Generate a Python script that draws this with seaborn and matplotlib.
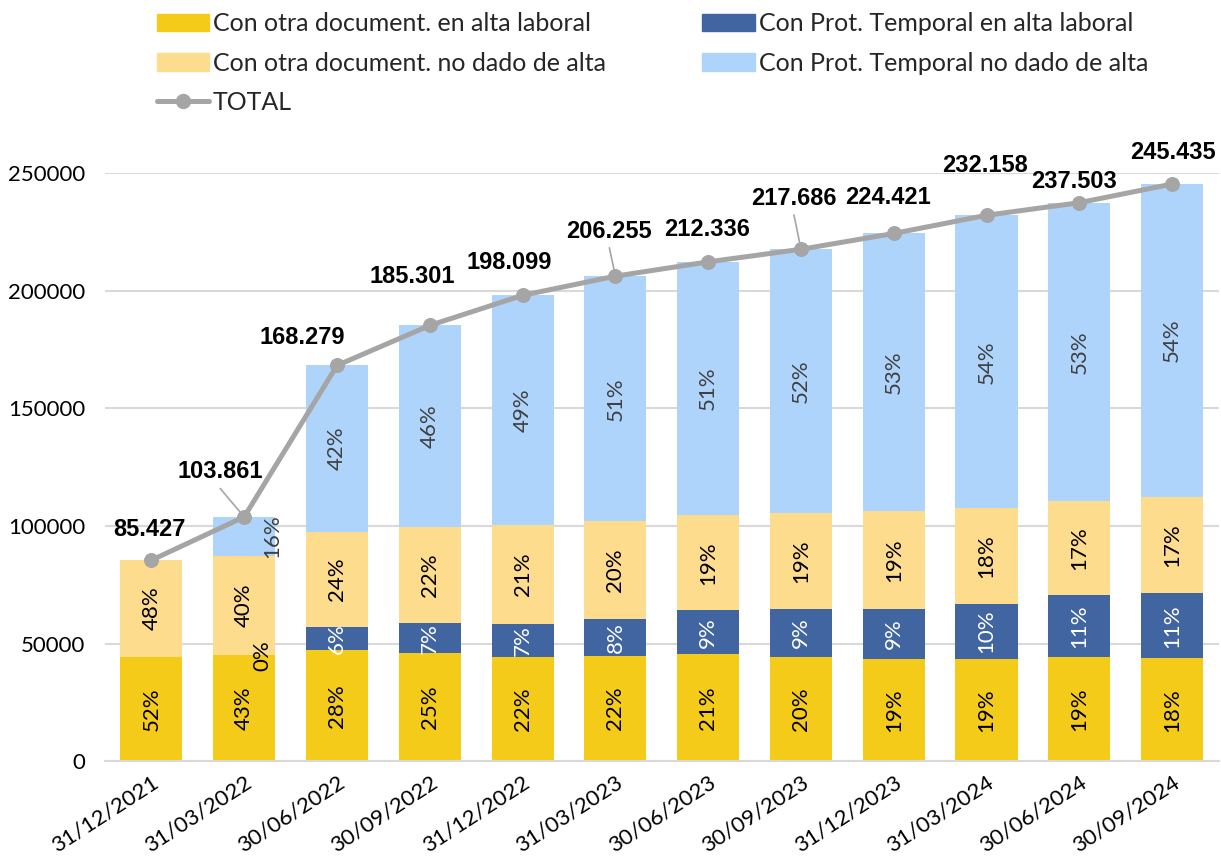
import numpy as np
import matplotlib
matplotlib.use('Agg')
import matplotlib.pyplot as plt
from matplotlib.patches import Patch
from matplotlib.lines import Line2D
import seaborn as sns

sns.set_theme(style='white')
plt.rcParams['font.family'] = ['Lato', 'DejaVu Sans']

dates = ['31/12/2021', '31/03/2022', '30/06/2022', '30/09/2022', '31/12/2022', '31/03/2023',
         '30/06/2023', '30/09/2023', '31/12/2023', '31/03/2024', '30/06/2024', '30/09/2024']

otra_alta = [44400, 44900, 47100, 45900, 44200, 44650, 45370, 44300, 43500, 43500, 44350, 43670]
prot_alta = [0, 300, 10000, 12760, 14050, 15730, 18830, 20330, 21000, 23130, 26100, 27630]
otra_no_alta = [41027, 41900, 40400, 40950, 42100, 41540, 40270, 40690, 41670, 40820, 40230, 40960]
prot_no_alta = [0, 16761, 70779, 85691, 97749, 104335, 107866, 112366, 118251, 124708, 126823, 133175]
totals = [85427, 103861, 168279, 185301, 198099, 206255, 212336, 217686, 224421, 232158, 237503, 245435]

series_names = ['Con otra document. en alta laboral', 'Con Prot. Temporal en alta laboral',
                'Con otra document. no dado de alta', 'Con Prot. Temporal no dado de alta']
colors = ['#F5CB1A', '#4165A0', '#FEDC8E', '#AFD4FC']
label_colors = ['black', 'white', 'black', '#404040']
line_color = '#A5A5A5'

# manual nudges for the total labels (pixels), as placed in the original
total_label_dx = [-2, -24, -35, -18, -13, -6, -1, -7, -6, -2, -5, 1]
total_label_dy = [31, 45, 28, 49, 33, 45, 32, 51, 36, 50, 21, 32]
leader_lines = [1, 5, 7]

fig = plt.figure(figsize=(12.21, 8.58), dpi=100)
ax = fig.add_axes([0.086, 0.113, 0.912, 0.685])

segments = [otra_alta, prot_alta, otra_no_alta, prot_no_alta]
cum = np.cumsum(np.array(segments, dtype=float), axis=0)
x = np.arange(len(dates))

# stacked bars: draw cumulative heights back to front
for i in range(len(segments) - 1, -1, -1):
    sns.barplot(x=dates, y=cum[i], color=colors[i], width=0.67, saturation=1,
                edgecolor='none', ax=ax, zorder=2)

# percent labels inside segments
for i, seg in enumerate(segments):
    for j, v in enumerate(seg):
        if v == 0:
            continue
        base = cum[i][j] - v
        pct = round(100 * v / totals[j])
        xx, c = j, label_colors[i]
        if j == 1 and i == 1:
            xx, c = j + 0.2, 'black'
        if j == 1 and i == 3:
            xx = j + 0.3
        ax.text(xx, base + v / 2, f'{pct}%', rotation=90, ha='center', va='center',
                fontsize=16, color=c, zorder=4)

sns.lineplot(x=x, y=totals, color=line_color, linewidth=3.6, marker='o',
             markersize=10, markeredgecolor=line_color, ax=ax, zorder=5)

for j, t in enumerate(totals):
    dx, dy = total_label_dx[j] * 0.72, total_label_dy[j] * 0.72
    ax.annotate(f'{t:,}'.replace(',', '.'), (j, t), xytext=(dx, dy),
                textcoords='offset points', ha='center', va='center', fontsize=17,
                fontweight='bold', family=['Liberation Sans', 'DejaVu Sans'], color='black',
                zorder=6, annotation_clip=False)
    if j in leader_lines:
        ax.annotate('', (j, t), xytext=(dx, dy - 12), textcoords='offset points',
                    arrowprops=dict(arrowstyle='-', color=line_color, lw=1.2,
                                    shrinkA=0, shrinkB=0), zorder=4)

ax.set_ylim(0, 250000)
ax.set_xlim(-0.5, len(dates) - 0.5)
ax.set_yticks(np.arange(0, 250001, 50000))
ax.yaxis.grid(True, color='#D9D9D9', linewidth=1.5, zorder=0)
ax.set_axisbelow(True)
for s in ['top', 'right', 'left']:
    ax.spines[s].set_visible(False)
ax.spines['bottom'].set_color('#D9D9D9')
ax.spines['bottom'].set_linewidth(1.5)
ax.tick_params(axis='y', labelsize=16, length=0, pad=14, labelcolor='black')
ax.tick_params(axis='x', labelsize=16, length=0, pad=8, labelcolor='black')
ax.set_xticks(x)
ax.set_xticklabels(dates, rotation=33, ha='right', rotation_mode='anchor')
ax.set_xlabel('')
ax.set_ylabel('')

handles = [Patch(color=colors[0]), Patch(color=colors[2]),
           Line2D([], [], color=line_color, linewidth=3.6, marker='o', markersize=10),
           Patch(color=colors[1]), Patch(color=colors[3])]
labels = [series_names[0], series_names[2], 'TOTAL', series_names[1], series_names[3]]
fig.legend(handles, labels, ncol=2, loc='upper left', bbox_to_anchor=(0.11, 1.012),
           frameon=False, fontsize=18, handlelength=2.1, handleheight=0.7,
           handletextpad=0.15, labelspacing=0.66, columnspacing=3.85)

plt.savefig('out.png', dpi=100)
